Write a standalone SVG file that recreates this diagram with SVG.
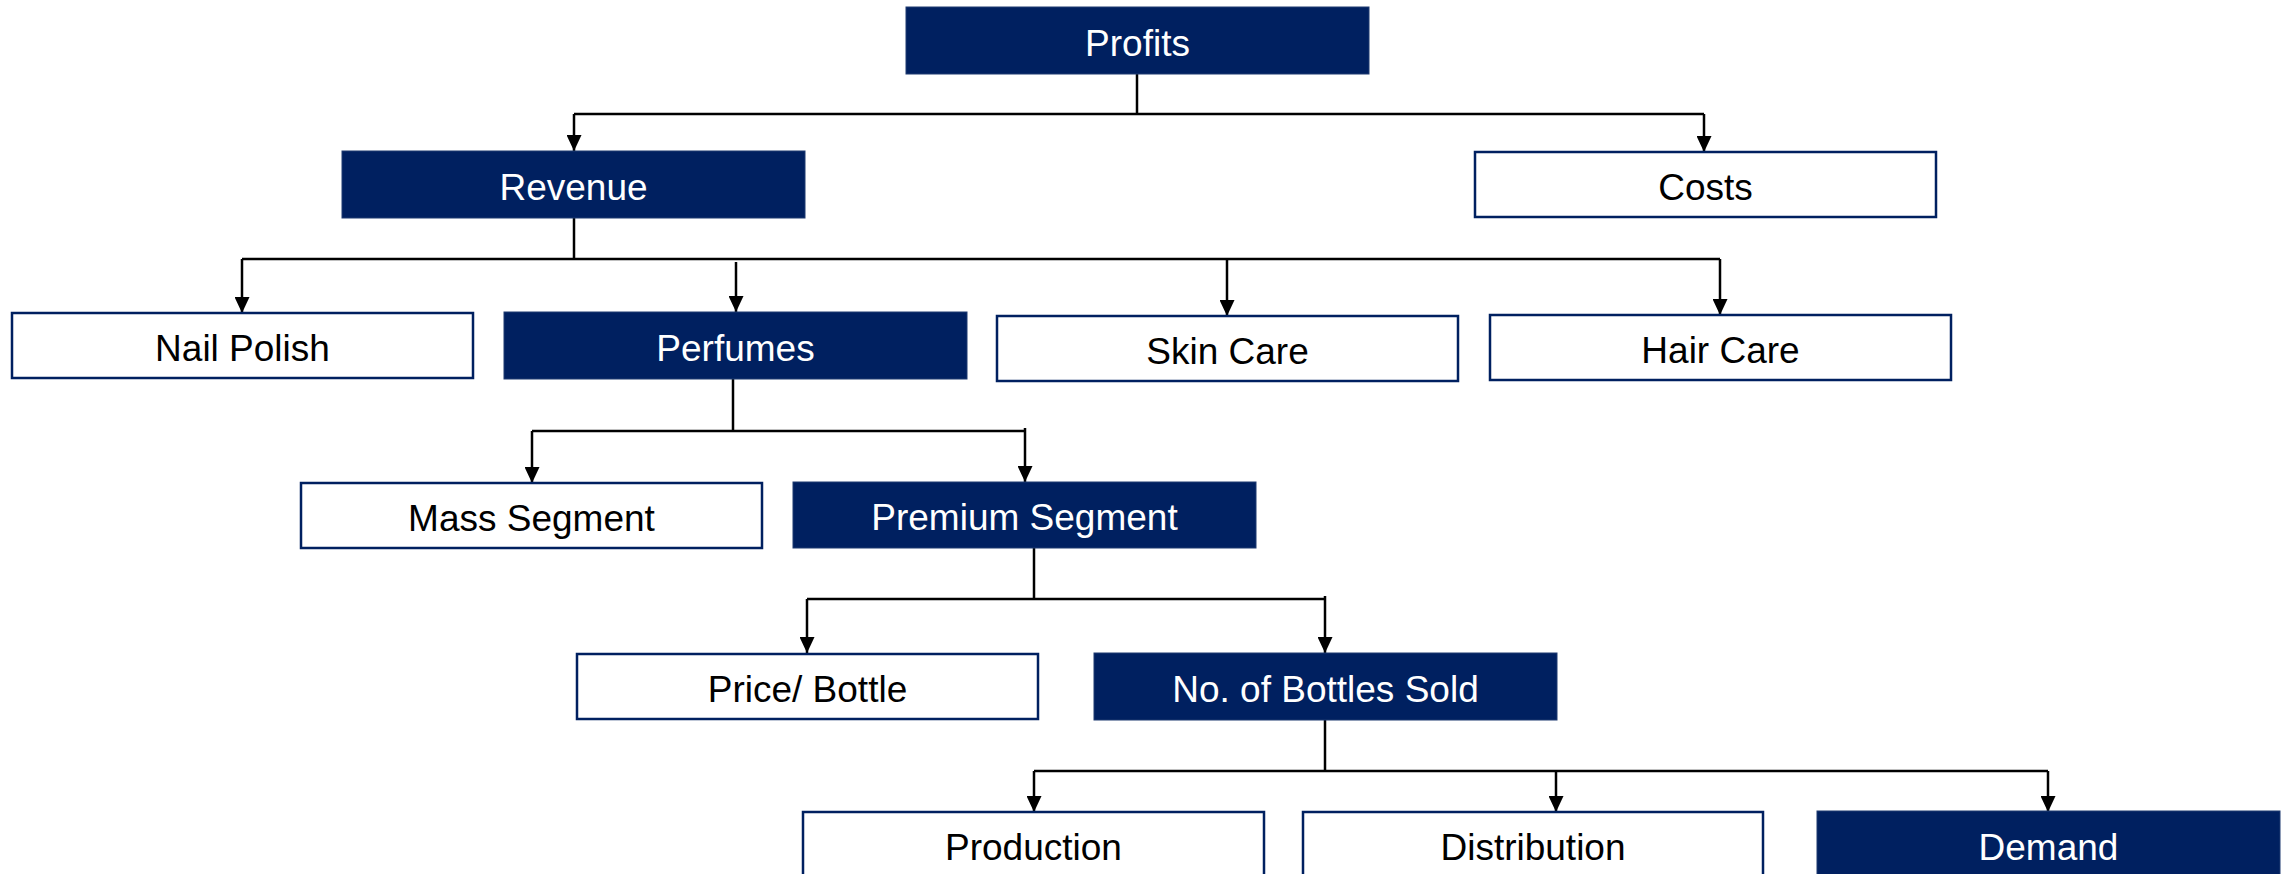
<svg xmlns="http://www.w3.org/2000/svg" width="2285" height="874" viewBox="0 0 2285 874">
  <defs>
    <marker id="arrow" viewBox="0 0 16 15" refX="16" refY="7.5" markerWidth="16" markerHeight="15" markerUnits="userSpaceOnUse" orient="auto">
      <path d="M0,0 L16,7.5 L0,15 z" fill="#000"/>
    </marker>
    <style>
      .dark rect { fill: #002060; stroke: #1f3a70; stroke-width: 1; }
      .light rect { fill: #fff; stroke: #002060; stroke-width: 2.5; }
      text { font-family: "Liberation Sans", Arial, sans-serif; font-size: 37px; text-anchor: middle; }
      .dark text { fill: #fff; }
      .light text { fill: #000; }
      .conn line, .conn path { stroke: #000; stroke-width: 2.5; fill: none; }
      .conn .arr { marker-end: url(#arrow); }
    </style>
  </defs>

  <rect width="2285" height="874" fill="#fff"/>

  <!-- connectors -->
  <g id="connectors" class="conn">
    <!-- Profits -->
    <line x1="1137" y1="74" x2="1137" y2="114"/>
    <line x1="574" y1="114" x2="1704" y2="114"/>
    <line class="arr" x1="574" y1="114" x2="574" y2="151"/>
    <line class="arr" x1="1704" y1="114" x2="1704" y2="152"/>
    <!-- Revenue -->
    <line x1="574" y1="218" x2="574" y2="259"/>
    <line x1="242" y1="259" x2="1720" y2="259"/>
    <line class="arr" x1="242" y1="259" x2="242" y2="313"/>
    <line class="arr" x1="736" y1="262" x2="736" y2="312"/>
    <line class="arr" x1="1227" y1="259" x2="1227" y2="316"/>
    <line class="arr" x1="1720" y1="259" x2="1720" y2="315"/>
    <!-- Perfumes -->
    <line x1="733" y1="379" x2="733" y2="431"/>
    <line x1="532" y1="431" x2="1025" y2="431"/>
    <line class="arr" x1="532" y1="431" x2="532" y2="483"/>
    <line class="arr" x1="1025" y1="428" x2="1025" y2="482"/>
    <!-- Premium Segment -->
    <line x1="1034" y1="548" x2="1034" y2="599"/>
    <line x1="807" y1="599" x2="1325" y2="599"/>
    <line class="arr" x1="807" y1="599" x2="807" y2="653"/>
    <line class="arr" x1="1325" y1="596" x2="1325" y2="653"/>
    <!-- No. of Bottles Sold -->
    <line x1="1325" y1="720" x2="1325" y2="771"/>
    <line x1="1034" y1="771" x2="2048" y2="771"/>
    <line class="arr" x1="1034" y1="771" x2="1034" y2="812"/>
    <line class="arr" x1="1556" y1="771" x2="1556" y2="812"/>
    <line class="arr" x1="2048" y1="771" x2="2048" y2="812"/>
  </g>

  <!-- nodes -->
  <g id="profits" class="dark">
    <rect x="906" y="7" width="463" height="67"/>
    <text x="1137.5" y="56">Profits</text>
  </g>
  <g id="revenue" class="dark">
    <rect x="342" y="151" width="463" height="67"/>
    <text x="573.5" y="200">Revenue</text>
  </g>
  <g id="costs" class="light">
    <rect x="1475" y="152" width="461" height="65"/>
    <text x="1705.5" y="200">Costs</text>
  </g>
  <g id="nail-polish" class="light">
    <rect x="12" y="313" width="461" height="65"/>
    <text x="242.5" y="361">Nail Polish</text>
  </g>
  <g id="perfumes" class="dark">
    <rect x="504" y="312" width="463" height="67"/>
    <text x="735.5" y="361">Perfumes</text>
  </g>
  <g id="skin-care" class="light">
    <rect x="997" y="316" width="461" height="65"/>
    <text x="1227.5" y="364">Skin Care</text>
  </g>
  <g id="hair-care" class="light">
    <rect x="1490" y="315" width="461" height="65"/>
    <text x="1720.5" y="363">Hair Care</text>
  </g>
  <g id="mass-segment" class="light">
    <rect x="301" y="483" width="461" height="65"/>
    <text x="531.5" y="531">Mass Segment</text>
  </g>
  <g id="premium-segment" class="dark">
    <rect x="793" y="482" width="463" height="66"/>
    <text x="1024.5" y="530">Premium Segment</text>
  </g>
  <g id="price-bottle" class="light">
    <rect x="577" y="654" width="461" height="65"/>
    <text x="807.5" y="702">Price/ Bottle</text>
  </g>
  <g id="bottles-sold" class="dark">
    <rect x="1094" y="653" width="463" height="67"/>
    <text x="1325.5" y="702">No. of Bottles Sold</text>
  </g>
  <g id="production" class="light">
    <rect x="803" y="812" width="461" height="80"/>
    <text x="1033.5" y="860">Production</text>
  </g>
  <g id="distribution" class="light">
    <rect x="1303" y="812" width="460" height="80"/>
    <text x="1533" y="860">Distribution</text>
  </g>
  <g id="demand" class="dark">
    <rect x="1817" y="811" width="463" height="80"/>
    <text x="2048.5" y="860">Demand</text>
  </g>
</svg>
